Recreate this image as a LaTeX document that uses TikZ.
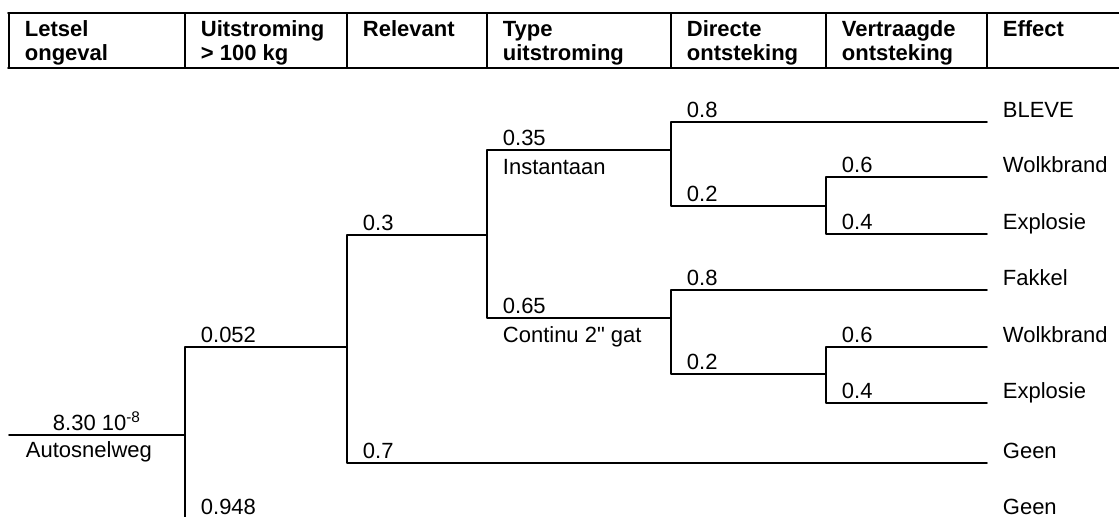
\documentclass[tikz,border=0pt]{standalone}
\usepackage{fontspec}
\setmainfont{Liberation Sans}
\begin{document}
\begin{tikzpicture}[x=0.5pt,y=-0.5pt,line width=0.9pt,line join=round,line cap=round,
 kop/.style={anchor=north west,inner sep=0pt,align=left,font=\fontsize{11}{12}\selectfont\bfseries},
 kans/.style={anchor=base west,inner sep=0pt,font=\fontsize{11}{13}\selectfont}]
 \def \ytop{13}\def \ybot{68}
 \useasboundingbox (0,0) rectangle (1119,516);
 \clip (0,0) rectangle (1119,516);
 % kop van de tabel
 \draw (8,\ytop)--(1119,\ytop) (8,\ybot)--(1119,\ybot);
 \draw (9,\ytop)--(9,\ybot) (185,\ytop)--(185,\ybot) (347,\ytop)--(347,\ybot) (487,\ytop)--(487,\ybot)
 (671,\ytop)--(671,\ybot) (826,\ytop)--(826,\ybot) (987,\ytop)--(987,\ybot);
 \node[kop] (hletsel) at (24,20) {Letsel\\ongeval};
 \node[kop] (huit) at (200,20) {Uitstroming\\> 100 kg};
 \node[kop] (hrel) at (362,20) {Relevant};
 \node[kop] (htype) at (502,20) {Type\\uitstroming};
 \node[kop] (hdir) at (686,20) {Directe\\ontsteking};
 \node[kop] (hvert) at (841,20) {Vertraagde\\ontsteking};
 \node[kop] (heff) at (1002,20) {Effect};
 % knooppunten van de boom
 \coordinate (ongeval) at (9,435); \coordinate (uit) at (185,435);
 \coordinate (rel) at (347,347); \coordinate (geenuit) at (987,520);
 \coordinate (type) at (487,235); \coordinate (geenrel) at (987,463);
 \coordinate (inst) at (671,150); \coordinate (cont) at (671,318);
 \coordinate (bleve) at (987,122); \coordinate (vi) at (826,206);
 \coordinate (wolki) at (987,177); \coordinate (expli) at (987,234);
 \coordinate (fakkel) at (987,290); \coordinate (vc) at (826,374);
 \coordinate (wolkc) at (987,347); \coordinate (explc) at (987,403);
 \draw (ongeval)--(uit);
 \draw (uit)|-(rel) (uit)|-(geenuit);
 \draw (rel)|-(type) (rel)|-(geenrel);
 \draw (type)|-(inst) (type)|-(cont);
 \draw (inst)|-(bleve) (inst)|-(vi);
 \draw (vi)|-(wolki) (vi)|-(expli);
 \draw (cont)|-(fakkel) (cont)|-(vc);
 \draw (vc)|-(wolkc) (vc)|-(explc);
 % kansen
 \node[kans,anchor=base] (pstart) at (97,430) {8.30 10\textsuperscript{-8}};
 \node[kans] (lstart) at (25,457) {Autosnelweg};
 \node[kans] (p052) at (200,342) {0.052};
 \node[kans] (p948) at (200,514) {0.948};
 \node[kans] (p3) at (362,230) {0.3};
 \node[kans] (p7) at (362,458) {0.7};
 \node[kans] (p35) at (502,145) {0.35};
 \node[kans] (linst) at (502,174) {Instantaan};
 \node[kans] (p65) at (502,313) {0.65};
 \node[kans] (lcont) at (502,342) {Continu 2\textquotedbl{} gat};
 \node[kans] (p8i) at (686,117) {0.8};
 \node[kans] (p2i) at (686,201) {0.2};
 \node[kans] (p6i) at (841,172) {0.6};
 \node[kans] (p4i) at (841,229) {0.4};
 \node[kans] (p8c) at (686,285) {0.8};
 \node[kans] (p2c) at (686,369) {0.2};
 \node[kans] (p6c) at (841,342) {0.6};
 \node[kans] (p4c) at (841,398) {0.4};
 % effecten
 \node[kans] (ebleve) at (1002,117) {BLEVE};
 \node[kans] (ewolki) at (1002,172) {Wolkbrand};
 \node[kans] (eexpli) at (1002,229) {Explosie};
 \node[kans] (efakkel) at (1002,285) {Fakkel};
 \node[kans] (ewolkc) at (1002,342) {Wolkbrand};
 \node[kans] (eexplc) at (1002,398) {Explosie};
 \node[kans] (egeenr) at (1002,458) {Geen};
 \node[kans] (egeenu) at (1002,514) {Geen};
\end{tikzpicture}
\end{document}
